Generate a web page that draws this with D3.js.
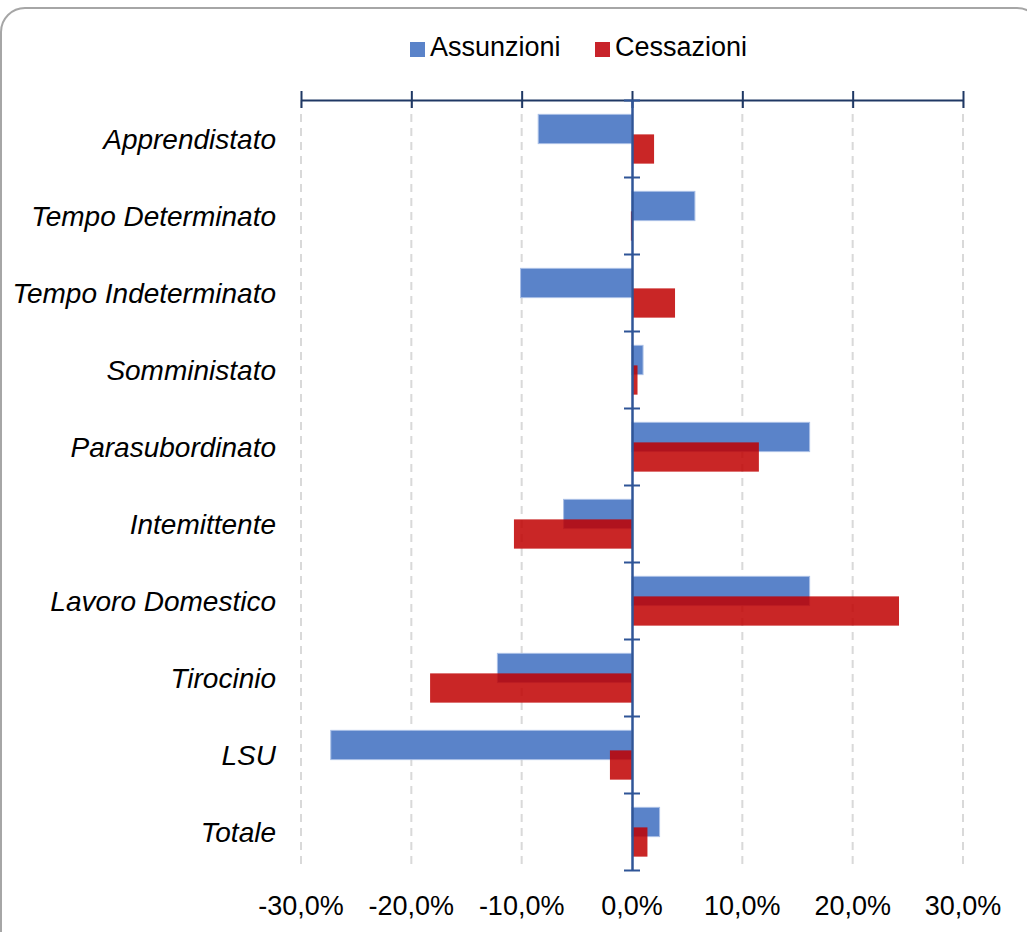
<!DOCTYPE html>
<html>
<head>
<meta charset="utf-8">
<script src="https://cdn.jsdelivr.net/npm/d3@7"></script>
<style>
  body { margin: 0; background: #fff; }
  svg text { font-family: "Liberation Sans", Arial, sans-serif; fill: #000; }
  .cat-label { font-style: italic; }
</style>
</head>
<body>
<div id="chart-area"></div>
<script>
const categories = [
  "Apprendistato", "Tempo Determinato", "Tempo Indeterminato", "Somministato",
  "Parasubordinato", "Intemittente", "Lavoro Domestico", "Tirocinio", "LSU", "Totale"
];
const assunzioni = [-8.5, 5.7, -10.1, 1.0, 16.1, -6.2, 16.1, -12.2, -27.3, 2.5];
const cessazioni = [2.0, -0.1, 3.9, 0.5, 11.5, -10.7, 24.2, -18.3, -2.0, 1.4];
const xTicks = [-30, -20, -10, 0, 10, 20, 30];
const seriesNames = ["Assunzioni", "Cessazioni"];

const chartSize = { width: 1027, height: 932 };
const blue = "#5a83c9";
const red = "#c00000";
const axisColor = "#2f5597";

const svg = d3.select("#chart-area")
  .append("svg")
  .attr("width", chartSize.width)
  .attr("height", chartSize.height);

// rounded frame
svg.append("rect")
  .attr("x", 1).attr("y", 8)
  .attr("width", 1040).attr("height", 960)
  .attr("rx", 24)
  .attr("fill", "#fff")
  .attr("stroke", "#a6a6a6")
  .attr("stroke-width", 2);

const x = d3.scaleLinear().domain([-30, 30]).range([301, 963]);
const y = d3.scaleBand().domain(categories).range([100.5, 870.5]).padding(0);
const bw = y.bandwidth();

// gridlines
svg.append("g").selectAll("line")
  .data(xTicks.filter(t => t !== 0))
  .join("line")
  .attr("x1", d => x(d)).attr("x2", d => x(d))
  .attr("y1", 100).attr("y2", 870)
  .attr("stroke", "#d9d9d9")
  .attr("stroke-width", 2)
  .attr("stroke-dasharray", "8,6");

// bars
const rows = categories.map((c, i) => ({ c, a: assunzioni[i], r: cessazioni[i] }));

svg.append("g").selectAll("rect")
  .data(rows)
  .join("rect")
  .attr("x", d => x(Math.min(0, d.a)))
  .attr("width", d => Math.abs(x(d.a) - x(0)))
  .attr("y", d => y(d.c) + bw * 0.18)
  .attr("height", bw * 0.38)
  .attr("fill", blue)
  .attr("stroke", "#a9bfe6")
  .attr("stroke-width", 1);

svg.append("g").selectAll("rect")
  .data(rows)
  .join("rect")
  .attr("x", d => x(Math.min(0, d.r)))
  .attr("width", d => Math.abs(x(d.r) - x(0)))
  .attr("y", d => y(d.c) + bw * 0.44)
  .attr("height", bw * 0.38)
  .attr("fill", red)
  .attr("fill-opacity", 0.85);

// top axis
const topAxis = svg.append("g")
  .attr("transform", "translate(0,100)")
  .call(d3.axisTop(x).tickValues(xTicks).tickSize(0).tickFormat(""));
topAxis.select(".domain").attr("stroke", "#1f3864").attr("stroke-width", 2);
topAxis.selectAll(".tick line").remove();
topAxis.selectAll(".tick").append("line")
  .attr("y1", -9).attr("y2", 8)
  .attr("stroke", "#1f3864").attr("stroke-width", 2);

// bottom tick labels
svg.append("g").selectAll("text")
  .data(xTicks)
  .join("text")
  .attr("x", d => x(d))
  .attr("y", 915)
  .attr("text-anchor", "middle")
  .style("font-size", "27px")
  .text(d => (d < 0 ? "-" : "") + Math.abs(d).toFixed(1).replace(".", ",") + "%");

// vertical category axis at zero
const yAxis = svg.append("g")
  .attr("transform", `translate(${x(0)},0)`)
  .call(d3.axisLeft(y).tickSize(0).tickFormat(""));
yAxis.select(".domain").attr("stroke", axisColor).attr("stroke-width", 2.5);
yAxis.selectAll(".tick").remove();
yAxis.selectAll("line.sep")
  .data(d3.range(categories.length + 1).map(i => 100.5 + i * bw))
  .join("line")
  .attr("class", "sep")
  .attr("x1", -8).attr("x2", 8)
  .attr("y1", d => d).attr("y2", d => d)
  .attr("stroke", axisColor).attr("stroke-width", 2);

// category labels
svg.append("g").selectAll("text")
  .data(categories)
  .join("text")
  .attr("class", "cat-label")
  .attr("x", 276)
  .attr("y", d => y(d) + bw / 2)
  .attr("dy", "0.35em")
  .attr("text-anchor", "end")
  .style("font-size", "28px")
  .text(d => d);

// legend
const legend = svg.append("g").attr("transform", "translate(410,47)");
const legendX = [0, 185];
seriesNames.forEach((name, i) => {
  legend.append("rect")
    .attr("x", legendX[i]).attr("y", -5)
    .attr("width", 15).attr("height", 15)
    .attr("fill", i === 0 ? blue : "#c8232a");
  legend.append("text")
    .attr("x", legendX[i] + 20).attr("y", 0)
    .attr("dy", "0.35em")
    .style("font-size", "27px")
    .text(name);
});
</script>
</body>
</html>
